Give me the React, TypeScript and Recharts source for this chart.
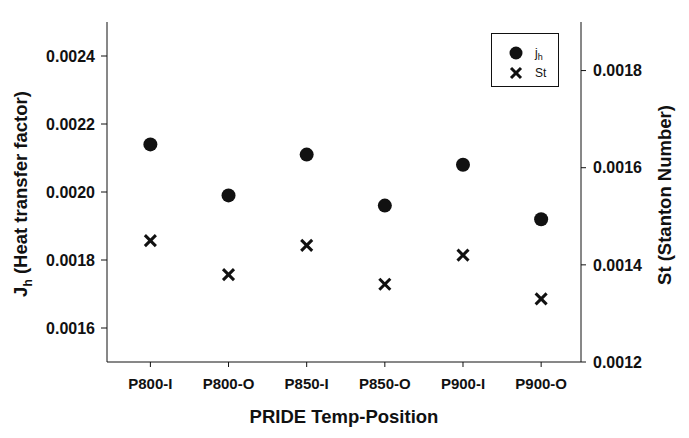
import React from 'react'
import { ScatterChart, Scatter, XAxis, YAxis } from 'recharts'

const categories = ['P800-I', 'P800-O', 'P850-I', 'P850-O', 'P900-I', 'P900-O']
const jhValues = [0.00214, 0.00199, 0.00211, 0.00196, 0.00208, 0.00192]
const stValues = [0.00145, 0.00138, 0.00144, 0.00136, 0.00142, 0.00133]
const leftTicks = [0.0016, 0.0018, 0.002, 0.0022, 0.0024]
const rightTicks = [0.0012, 0.0014, 0.0016, 0.0018]
const xTicks = [1, 2, 3, 4, 5, 6]

const FONT = '"Liberation Sans", Arial, sans-serif'
const INK = '#111'

const jhData = categories.map((c, i) => ({ x: i + 1, jh: jhValues[i] }))
const stData = categories.map((c, i) => ({ x: i + 1, st: stValues[i] }))

const Cross = (props: any) => {
  const { cx, cy } = props
  const s = 5.5
  return (
    <g stroke={INK} strokeWidth={3}>
      <line x1={cx - s} y1={cy - s} x2={cx + s} y2={cy + s} />
      <line x1={cx - s} y1={cy + s} x2={cx + s} y2={cy - s} />
    </g>
  )
}

const Dot = (props: any) => <circle cx={props.cx} cy={props.cy} r={7} fill={INK} />

const tickStyle = { fontSize: 15, fontWeight: 700, fill: INK, fontFamily: FONT }
const yTickStyle = { ...tickStyle, fontSize: 16 }

export default function App() {
  return (
    <div style={{ position: 'absolute', left: 0, top: 0, width: 689, height: 438, background: '#fff', fontFamily: FONT }}>
      <ScatterChart width={689} height={438} margin={{ top: 22, right: 0, bottom: 0, left: 0 }}>
        <XAxis
          xAxisId="top"
          orientation="top"
          type="number"
          dataKey="x"
          domain={[0.445, 6.51]}
          height={0}
          tick={false}
          tickLine={false}
          axisLine={{ stroke: INK }}
        />
        <XAxis
          type="number"
          dataKey="x"
          domain={[0.445, 6.51]}
          ticks={xTicks}
          tickFormatter={(v: number) => categories[v - 1]}
          height={76}
          tickSize={5}
          tickMargin={11}
          tick={tickStyle}
          axisLine={{ stroke: INK }}
          tickLine={{ stroke: INK }}
          label={({ viewBox }: any) => (
            <text x={viewBox.x + viewBox.width / 2} y={423} textAnchor="middle"
              style={{ fontSize: 18.5, fontWeight: 700, fill: INK, fontFamily: FONT }}>
              PRIDE Temp-Position
            </text>
          )}
        />
        <YAxis
          yAxisId="left"
          dataKey="jh"
          type="number"
          domain={[0.0015, 0.0025]}
          ticks={leftTicks}
          tickFormatter={(v: number) => v.toFixed(4)}
          width={107}
          tickSize={6}
          tickMargin={6}
          tick={yTickStyle}
          axisLine={{ stroke: INK }}
          tickLine={{ stroke: INK }}
          label={({ viewBox }: any) => {
            const cy = viewBox.y + viewBox.height / 2 + 2
            return (
              <text x={27} y={cy} textAnchor="middle" transform={`rotate(-90 27 ${cy})`}
                style={{ fontSize: 18.5, fontWeight: 700, fill: INK, fontFamily: FONT }}>
                J<tspan fontSize={12} dy={5}>h</tspan><tspan dy={-5}> (Heat transfer factor)</tspan>
              </text>
            )
          }}
        />
        <YAxis
          yAxisId="right"
          orientation="right"
          dataKey="st"
          type="number"
          domain={[0.0012, 0.0019]}
          ticks={rightTicks}
          tickFormatter={(v: number) => v.toFixed(4)}
          width={108}
          tickSize={5}
          tickMargin={7}
          tick={{ ...yTickStyle, textAnchor: 'start' }}
          axisLine={{ stroke: INK }}
          tickLine={{ stroke: INK }}
          label={({ viewBox }: any) => {
            const cy = viewBox.y + viewBox.height / 2 + 3
            return (
              <text x={671} y={cy} textAnchor="middle" transform={`rotate(-90 671 ${cy})`}
                style={{ fontSize: 18.5, fontWeight: 700, fill: INK, fontFamily: FONT }}>
                St (Stanton Number)
              </text>
            )
          }}
        />
        <Scatter yAxisId="left" data={jhData} shape={<Dot />} isAnimationActive={false} />
        <Scatter yAxisId="right" data={stData} shape={<Cross />} isAnimationActive={false} />
      </ScatterChart>
      <div style={{
        position: 'absolute', left: 491, top: 33, width: 68, height: 54,
        border: `1px solid ${INK}`, boxSizing: 'border-box', fontFamily: FONT, fontSize: 12, color: INK,
      }}>
        <svg width={68} height={54} style={{ position: 'absolute', left: 0, top: 0 }}>
          <circle cx={24} cy={19} r={6.5} fill={INK} />
          <g stroke={INK} strokeWidth={3}>
            <line x1={19} y1={34} x2={29} y2={44} />
            <line x1={19} y1={44} x2={29} y2={34} />
          </g>
          <text x={43} y={23} fill={INK} style={{ fontSize: 12, fontFamily: FONT }}>
            j<tspan fill={INK} fontSize={9} dy={3}>h</tspan>
          </text>
          <text x={43} y={43} fill={INK} style={{ fontSize: 12, fontFamily: FONT }}>St</text>
        </svg>
      </div>
    </div>
  )
}
